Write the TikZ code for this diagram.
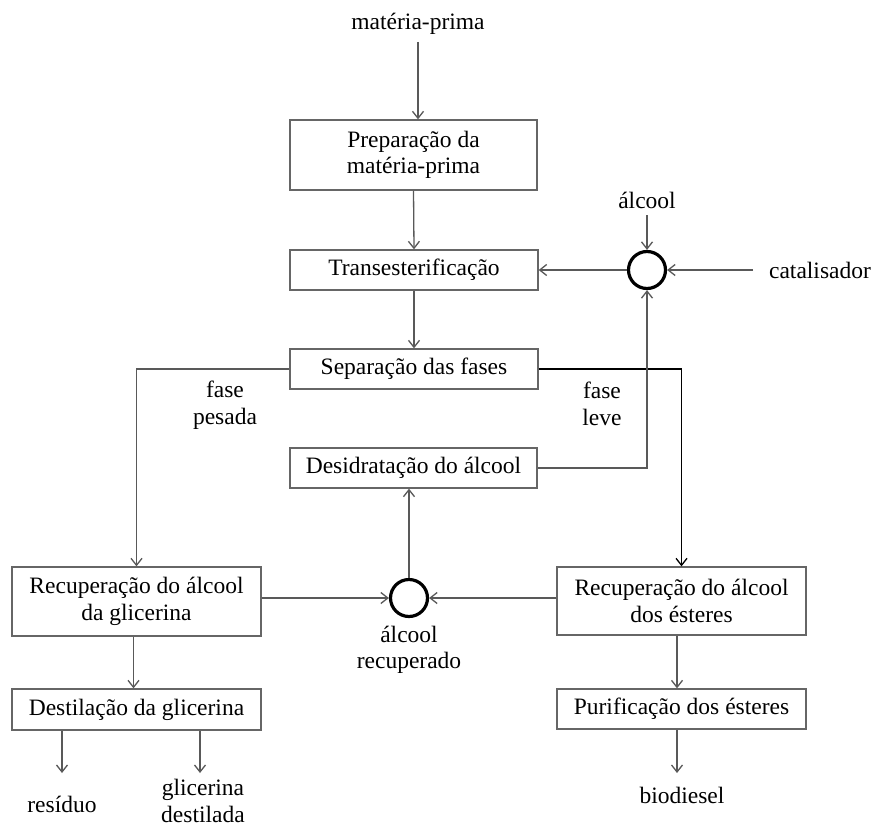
\documentclass[tikz,border=0pt]{standalone}
\usepackage{fontspec}
\setmainfont{Liberation Serif}
\usetikzlibrary{arrows.meta}
\begin{document}
\begin{tikzpicture}[x=1pt,y=-1pt,
  every node/.style={font=\fontsize{23.5}{26.5}\selectfont, text=black},
  proc/.style={draw=black!60, line width=1.3pt, align=center, inner sep=0pt},
  mixer/.style={draw=black, line width=3.2pt, circle, minimum size=37pt, inner sep=0pt},
  lbl/.style={align=center, inner sep=2pt},
  flow/.style={draw=black!65, line width=1.3pt, -{Straight Barb[length=7pt,width=11pt]}},
  plain/.style={draw=black!65, line width=1.3pt}]
\useasboundingbox (0,0) rectangle (874,829);
\fill[white] (0,0) rectangle (874,829);

% process boxes
\node[proc, minimum width=247pt, minimum height=70pt] (prep) at (413.5,155) {Preparação da\\matéria-prima};
\node[proc, minimum width=248pt, minimum height=40pt] (trans) at (414,270) {Transesterificação};
\node[proc, minimum width=248pt, minimum height=40pt] (sep) at (414,369) {Separação das fases};
\node[proc, minimum width=247pt, minimum height=40pt] (desid) at (413.5,468) {Desidratação do álcool};
\node[proc, minimum width=249pt, minimum height=69pt] (recG) at (136.5,601.5) {Recuperação do álcool\\da glicerina};
\node[proc, minimum width=249pt, minimum height=41pt] (dest) at (136.5,709.5) {Destilação da glicerina};
\node[proc, minimum width=249pt, minimum height=68pt] (recE) at (681.5,601) {Recuperação do álcool\\dos ésteres};
\node[proc, minimum width=249pt, minimum height=40pt] (purif) at (681.5,709) {Purificação dos ésteres};

% mixers
\node[mixer] (c1) at (647,270) {};
\node[mixer] (c2) at (409,598) {};

% labels
\node[lbl] (mp) at (418,24) {matéria-prima};
\node[lbl] (alc) at (647,200) {álcool};
\node[lbl] (cat) at (820,270) {catalisador};
\node[lbl] (pes) at (225,405) {fase\\pesada};
\node[lbl] (lev) at (602,404) {fase\\leve};
\node[lbl] (rec) at (409,650) {álcool\\recuperado};
\node[lbl] (res) at (62,804) {resíduo};
\node[lbl] (gli) at (203,801) {glicerina\\destilada};
\node[lbl] (bio) at (682,795) {biodiesel};

% free ends
\coordinate (mpEnd) at (418,42);
\coordinate (alcEnd) at (647,215);
\coordinate (catEnd) at (753,270);
\coordinate (r1) at (62,773);
\coordinate (g1) at (200,773);
\coordinate (b1) at (677,773);

% connectors
\draw[flow] (mpEnd) -- (mpEnd |- prep.north);
\draw[flow] (prep.south) -- (trans.north);
\draw[flow] (alcEnd) -- (c1.north);
\draw[flow] (catEnd) -- (c1.east);
\draw[flow] (c1.west) -- (c1.west -| trans.east);
\draw[flow] (trans.south) -- (sep.north);
\draw[flow] (sep.west) -| (recG.north);
\draw[flow, draw=black] (sep.east) -| (recE.north);
\draw[flow] (desid.east) -| (c1.south);
\draw[flow] (c2.north) -- (c2.north |- desid.south);
\draw[flow] (recG.east |- c2.west) -- (c2.west);
\draw[flow] (recE.west |- c2.east) -- (c2.east);
\draw[flow] ([xshift=-3pt]recG.south) -- ([xshift=-3pt]dest.north);
\draw[flow] ([xshift=-4.5pt]recE.south) -- ([xshift=-4.5pt]purif.north);
\draw[flow] (r1 |- dest.south) -- (r1);
\draw[flow] (g1 |- dest.south) -- (g1);
\draw[flow] (b1 |- purif.south) -- (b1);
\end{tikzpicture}
\end{document}
